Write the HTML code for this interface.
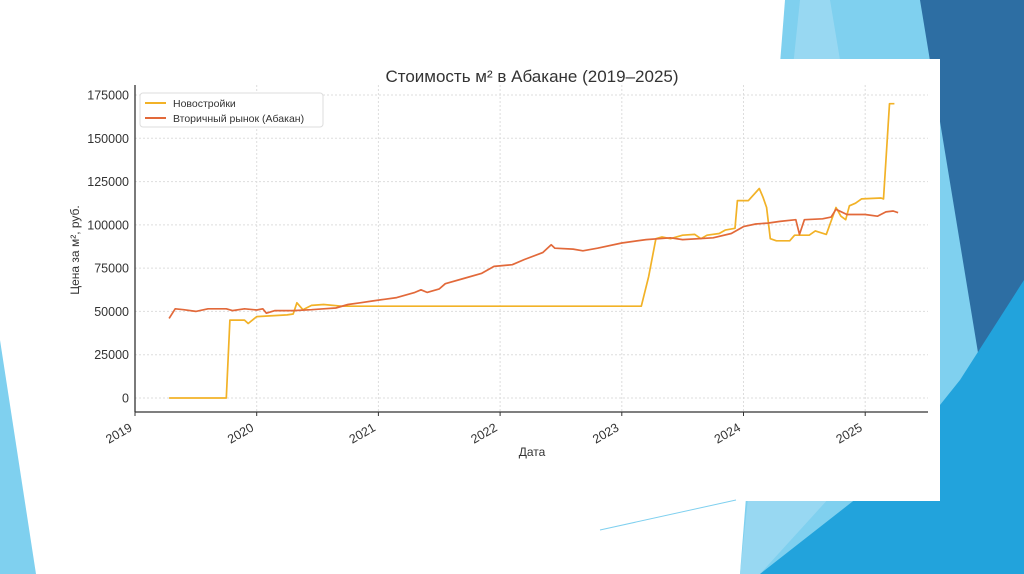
<!DOCTYPE html>
<html><head><meta charset="utf-8">
<style>
html,body{margin:0;padding:0;width:1024px;height:574px;overflow:hidden;background:#fff;}
svg{display:block;font-family:"Liberation Sans","DejaVu Sans",sans-serif;}
</style></head>
<body>
<svg id="chart" width="1024" height="574" viewBox="0 0 1024 574">
  <g>
    <polygon points="0,340 36,574 0,574" fill="#7fd0ef"/>
    <polygon points="785,0 1024,0 1024,574 740,574" fill="#7fd0ef"/>
    <polygon points="800,0 830,0 900,420 760,574 740,574" fill="#a8def4" opacity="0.6"/>
    <polygon points="920,0 1024,0 1024,285 982,377" fill="#2d6ea3"/>
    <polygon points="760,574 1024,574 1024,280 960,380 880,480" fill="#22a3dc"/>
  </g>
  <rect x="80" y="59" width="860" height="442" fill="#fff"/>
  <line x1="600" y1="530" x2="736" y2="500" stroke="#7fd0ef" stroke-width="1"/>
  <text x="532" y="82" text-anchor="middle" font-size="17" fill="#333">Стоимость м² в Абакане (2019–2025)</text>
  <g id="grid"></g>
  <g id="series"></g>
  <g id="axes"></g>
  <text x="532" y="456" text-anchor="middle" font-size="12" fill="#333">Дата</text>
  <text transform="translate(79,250) rotate(-90)" text-anchor="middle" font-size="12" fill="#333">Цена за м², руб.</text>
  <g>
    <rect x="140" y="93" width="183" height="34" rx="3" fill="#fff" stroke="#ddd"/>
    <line x1="145" y1="103" x2="166" y2="103" stroke="#f2b227" stroke-width="2"/>
    <text x="173" y="107" font-size="10.5" fill="#333">Новостройки</text>
    <line x1="145" y1="118" x2="166" y2="118" stroke="#e2693a" stroke-width="2"/>
    <text x="173" y="122" font-size="10.5" fill="#333">Вторичный рынок (Абакан)</text>
  </g>
</svg>
<script>
const yTicks = [0,25000,50000,75000,100000,125000,150000,175000];
const xTicks = [2019,2020,2021,2022,2023,2024,2025];
const newDates = [2019.28,2019.75,2019.78,2019.9,2019.93,2020.0,2020.25,2020.3,2020.33,2020.38,2020.45,2020.55,2020.7,2023.16,2023.22,2023.28,2023.33,2023.4,2023.5,2023.6,2023.65,2023.7,2023.8,2023.85,2023.93,2023.95,2024.04,2024.13,2024.16,2024.19,2024.22,2024.27,2024.38,2024.42,2024.54,2024.59,2024.68,2024.76,2024.8,2024.84,2024.87,2024.92,2024.97,2025.13,2025.15,2025.2,2025.24];
const newValues = [0,0,45000,45000,43000,47000,48000,48500,55000,51000,53500,54000,53000,53000,70000,92000,93000,92000,94000,94500,92000,94000,95000,97000,98000,114000,114000,121000,116000,110000,92000,90800,90800,94000,94000,96500,94500,110000,105000,103000,111000,112500,115000,115500,115000,170000,170000];
const secDates = [2019.28,2019.33,2019.4,2019.5,2019.6,2019.75,2019.8,2019.9,2020.0,2020.05,2020.08,2020.15,2020.3,2020.45,2020.55,2020.65,2020.75,2020.85,2020.95,2021.05,2021.15,2021.3,2021.35,2021.4,2021.45,2021.5,2021.55,2021.7,2021.85,2021.95,2022.1,2022.2,2022.35,2022.42,2022.45,2022.6,2022.68,2022.8,2023.0,2023.2,2023.4,2023.5,2023.75,2023.9,2024.0,2024.1,2024.2,2024.3,2024.43,2024.46,2024.5,2024.65,2024.72,2024.76,2024.85,2025.0,2025.1,2025.17,2025.23,2025.27];
const secValues = [46000,51500,51000,50000,51500,51500,50500,51500,50800,51500,49000,50500,50500,51000,51500,52000,54000,55000,56000,57000,58000,61000,62500,61000,62000,63000,66000,69000,72000,76000,77000,80000,84000,88500,86500,86000,85000,86500,89500,91500,92500,91500,92500,95000,99000,100500,101000,102000,103000,94500,103000,103500,104500,109000,106000,106000,105000,107500,108000,107000];

const NS='http://www.w3.org/2000/svg';
const X0=135, X1=928, Y0=398, YTOP=95, AXY=412;
function xs(t){return X0+(t-2019)*121.7;}
function ys(v){return Y0-(v/175000)*(Y0-YTOP);}
function mk(tag,attrs,parent){const e=document.createElementNS(NS,tag);for(const k in attrs)e.setAttribute(k,attrs[k]);parent.appendChild(e);return e;}
const grid=document.getElementById('grid'), axes=document.getElementById('axes'), series=document.getElementById('series');
yTicks.forEach(v=>{
  const l=mk('line',{x1:X0,x2:X1,y1:ys(v),y2:ys(v),stroke:'#ddd','stroke-dasharray':'2,2'},grid);
  
  
  const t=mk('text',{x:X0-6,y:ys(v)+4.5,'text-anchor':'end','font-size':'12.5',fill:'#333'},axes);
  t.textContent=v;
  
  
});
xTicks.forEach(yr=>{
  const x=xs(yr);
  const l=mk('line',{x1:x,x2:x,y1:85,y2:AXY,stroke:'#ddd','stroke-dasharray':'2,2'},grid);
  
  
  mk('line',{x1:x,x2:x,y1:AXY,y2:AXY+4,stroke:'#333'},axes);
  const t=mk('text',{x:x-2,y:AXY+18,'text-anchor':'end','font-size':'12.5',fill:'#333',transform:`rotate(-30 ${x-2} ${AXY+18})`},axes);
  t.textContent=yr;
  
  
});
const ax=mk('line',{x1:X0,x2:X1,y1:AXY,y2:AXY,stroke:'#333','stroke-width':'1.3'},axes);


const ay=mk('line',{x1:X0,x2:X0,y1:85,y2:AXY,stroke:'#333','stroke-width':'1.3'},axes);


function path(d,v){return d.map((t,i)=>(i?'L':'M')+xs(t).toFixed(1)+','+ys(v[i]).toFixed(1)).join('');}
const p1=mk('path',{d:path(newDates,newValues),fill:'none',stroke:'#f2b227','stroke-width':'1.7','stroke-linejoin':'round'},series);


const p2=mk('path',{d:path(secDates,secValues),fill:'none',stroke:'#e2693a','stroke-width':'1.7','stroke-linejoin':'round'},series);


</script>
</body></html>
